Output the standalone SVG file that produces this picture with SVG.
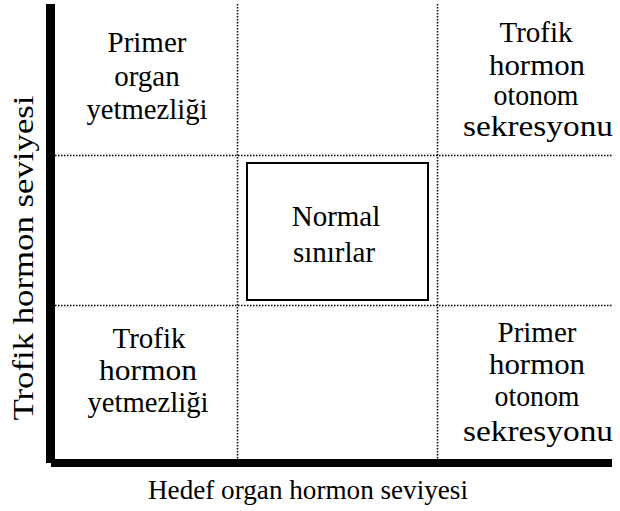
<svg xmlns="http://www.w3.org/2000/svg" width="620" height="511" viewBox="0 0 620 511">
  <style>
    .lbl { font-family: "Liberation Serif", "Times New Roman", serif; font-size: 29px; fill: #000; text-anchor: middle; }
    .axl { font-size: 27px; }
    .grid { stroke: #000; stroke-width: 1.5; stroke-dasharray: 1.5 1.5; fill: none; }
    .axis { fill: #000; }
  </style>
  <rect width="620" height="511" fill="#fff"/>

  <!-- dotted grid dividing the plane into nine regions -->
  <g id="connectors">
    <line class="grid" x1="237.5" y1="4" x2="237.5" y2="459"/>
    <line class="grid" x1="437.5" y1="4" x2="437.5" y2="459"/>
    <line class="grid" x1="55" y1="155.5" x2="612" y2="155.5"/>
    <line class="grid" x1="55" y1="305.5" x2="612" y2="305.5"/>
  </g>

  <!-- axes -->
  <g id="axes">
    <rect class="axis" x="46" y="4" width="9" height="459"/>
    <rect class="axis" x="51" y="459" width="561" height="8"/>
    <text class="lbl axl" x="308" y="499" textLength="320" lengthAdjust="spacingAndGlyphs">Hedef organ hormon seviyesi</text>
    <text class="lbl" transform="translate(33 258) rotate(-90)" textLength="325" lengthAdjust="spacingAndGlyphs">Trofik hormon seviyesi</text>
  </g>

  <g id="primer-organ-yetmezligi">
    <text class="lbl" x="147" y="52">Primer</text>
    <text class="lbl" x="147" y="86">organ</text>
    <text class="lbl" x="147" y="119" textLength="121" lengthAdjust="spacingAndGlyphs">yetmezliği</text>
  </g>

  <g id="trofik-hormon-otonom-sekresyonu">
    <text class="lbl" x="536" y="42">Trofik</text>
    <text class="lbl" x="537" y="75" textLength="96" lengthAdjust="spacingAndGlyphs">hormon</text>
    <text class="lbl" x="536" y="105" textLength="85" lengthAdjust="spacingAndGlyphs">otonom</text>
    <text class="lbl" x="538" y="136" textLength="150" lengthAdjust="spacingAndGlyphs">sekresyonu</text>
  </g>

  <g id="normal-sinirlar">
    <rect x="247" y="163" width="181" height="137" fill="none" stroke="#000" stroke-width="2"/>
    <text class="lbl" x="336" y="226">Normal</text>
    <text class="lbl" x="334" y="262">sınırlar</text>
  </g>

  <g id="trofik-hormon-yetmezligi">
    <text class="lbl" x="149" y="348">Trofik</text>
    <text class="lbl" x="148" y="380" textLength="98" lengthAdjust="spacingAndGlyphs">hormon</text>
    <text class="lbl" x="148" y="412" textLength="121" lengthAdjust="spacingAndGlyphs">yetmezliği</text>
  </g>

  <g id="primer-hormon-otonom-sekresyonu">
    <text class="lbl" x="537" y="342">Primer</text>
    <text class="lbl" x="537" y="374" textLength="96" lengthAdjust="spacingAndGlyphs">hormon</text>
    <text class="lbl" x="537" y="406" textLength="85" lengthAdjust="spacingAndGlyphs">otonom</text>
    <text class="lbl" x="538" y="441" textLength="150" lengthAdjust="spacingAndGlyphs">sekresyonu</text>
  </g>
</svg>
